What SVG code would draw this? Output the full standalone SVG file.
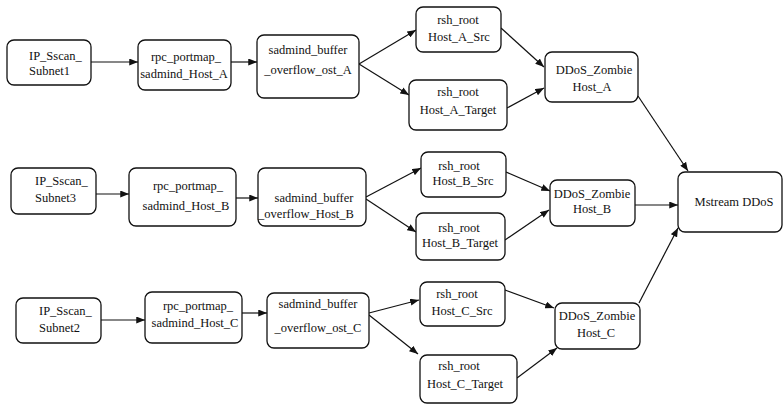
<svg xmlns="http://www.w3.org/2000/svg" width="784" height="405" viewBox="0 0 784 405" font-family="'Liberation Serif', 'DejaVu Serif', serif">
<style>
.n rect{fill:#fff;stroke:#111;stroke-width:1.3}
.n text{font-family:'Liberation Serif','DejaVu Serif',serif;font-size:12.5px;fill:#111;text-anchor:middle}
.n text.l{text-anchor:start}
#edges line{stroke:#111;stroke-width:1.2;marker-end:url(#ah)}
</style>
<defs>
<marker id="ah" viewBox="0 0 10 8" refX="10" refY="4" markerWidth="9" markerHeight="7" markerUnits="userSpaceOnUse" orient="auto">
<path d="M0,0 L10,4 L0,8 Z" fill="#111"/>
</marker>
</defs>
<rect width="784" height="405" fill="#fff"/>
<g id="edges">
<line x1="91" y1="62" x2="138" y2="62"/>
<line x1="231" y1="62" x2="257" y2="62"/>
<line x1="359" y1="64" x2="416" y2="30"/>
<line x1="359" y1="64" x2="409" y2="95"/>
<line x1="501" y1="28" x2="544" y2="67"/>
<line x1="507" y1="108" x2="544" y2="88"/>
<line x1="638" y1="96" x2="688" y2="171"/>
<line x1="96" y1="194" x2="129" y2="194"/>
<line x1="236" y1="198" x2="258" y2="198"/>
<line x1="366" y1="197" x2="421" y2="168"/>
<line x1="366" y1="199" x2="416" y2="232"/>
<line x1="506" y1="172" x2="550" y2="191"/>
<line x1="505" y1="240" x2="549" y2="210"/>
<line x1="635" y1="205" x2="678" y2="205"/>
<line x1="639" y1="303" x2="678" y2="228"/>
<line x1="101" y1="320" x2="145" y2="320"/>
<line x1="242" y1="313" x2="267" y2="313"/>
<line x1="369" y1="313" x2="419" y2="300"/>
<line x1="369" y1="315" x2="418" y2="354"/>
<line x1="505" y1="290" x2="554" y2="308"/>
<line x1="517" y1="378" x2="557" y2="348"/>
</g>
<g id="subnet1" class="n"><rect x="7" y="40" width="84" height="45" rx="7"/><text class="l" x="29" y="60">IP_Sscan_</text><text class="l" x="29" y="75">Subnet1</text></g>
<g id="rpcA" class="n"><rect x="138" y="40" width="93" height="50" rx="7"/><text x="186" y="61">rpc_portmap_</text><text x="184" y="78">sadmind_Host_A</text></g>
<g id="sadmindA" class="n"><rect x="257" y="35" width="102" height="63" rx="7"/><text x="308" y="54">sadmind_buffer</text><text x="308" y="74">_overflow_ost_A</text></g>
<g id="srcA" class="n"><rect x="416" y="7" width="85" height="45" rx="7"/><text x="458" y="24">rsh_root</text><text x="459" y="41">Host_A_Src</text></g>
<g id="targetA" class="n"><rect x="409" y="80" width="98" height="50" rx="7"/><text x="458" y="96">rsh_root</text><text x="458" y="114">Host_A_Target</text></g>
<g id="zombieA" class="n"><rect x="545" y="52" width="93" height="50" rx="7"/><text x="594" y="74">DDoS_Zombie</text><text x="592" y="91">Host_A</text></g>
<g id="subnet3" class="n"><rect x="11" y="168" width="85" height="46" rx="7"/><text class="l" x="35" y="185">IP_Sscan_</text><text class="l" x="35" y="202">Subnet3</text></g>
<g id="rpcB" class="n"><rect x="129" y="168" width="107" height="58" rx="7"/><text x="188" y="190">rpc_portmap_</text><text x="186" y="210">sadmind_Host_B</text></g>
<g id="sadmindB" class="n"><rect x="258" y="168" width="108" height="58" rx="7"/><text x="314" y="202">sadmind_buffer</text><text x="306" y="218">_overflow_Host_B</text></g>
<g id="srcB" class="n"><rect x="421" y="152" width="85" height="45" rx="7"/><text x="459" y="170">rsh_root</text><text x="463" y="185">Host_B_Src</text></g>
<g id="targetB" class="n"><rect x="416" y="213" width="89" height="47" rx="7"/><text x="459" y="232">rsh_root</text><text x="460" y="247">Host_B_Target</text></g>
<g id="zombieB" class="n"><rect x="550" y="180" width="85" height="46" rx="7"/><text x="592" y="198">DDoS_Zombie</text><text x="592" y="213">Host_B</text></g>
<g id="mstream" class="n"><rect x="678" y="172" width="104" height="60" rx="7"/><text x="734" y="206">Mstream DDoS</text></g>
<g id="subnet2" class="n"><rect x="16" y="298" width="85" height="45" rx="7"/><text class="l" x="39" y="315">IP_Sscan_</text><text class="l" x="39" y="332">Subnet2</text></g>
<g id="rpcC" class="n"><rect x="145" y="292" width="97" height="51" rx="7"/><text x="198" y="310">rpc_portmap_</text><text x="195" y="327">sadmind_Host_C</text></g>
<g id="sadmindC" class="n"><rect x="267" y="293" width="102" height="55" rx="7"/><text x="318" y="308">sadmind_buffer</text><text x="318" y="332">_overflow_ost_C</text></g>
<g id="srcC" class="n"><rect x="420" y="282" width="85" height="44" rx="7"/><text x="457" y="298">rsh_root</text><text x="462" y="315">Host_C_Src</text></g>
<g id="targetC" class="n"><rect x="420" y="355" width="97" height="48" rx="7"/><text x="459" y="370">rsh_root</text><text x="465" y="388">Host_C_Target</text></g>
<g id="zombieC" class="n"><rect x="555" y="303" width="85" height="46" rx="7"/><text x="597" y="320">DDoS_Zombie</text><text x="596" y="337">Host_C</text></g>
</svg>
